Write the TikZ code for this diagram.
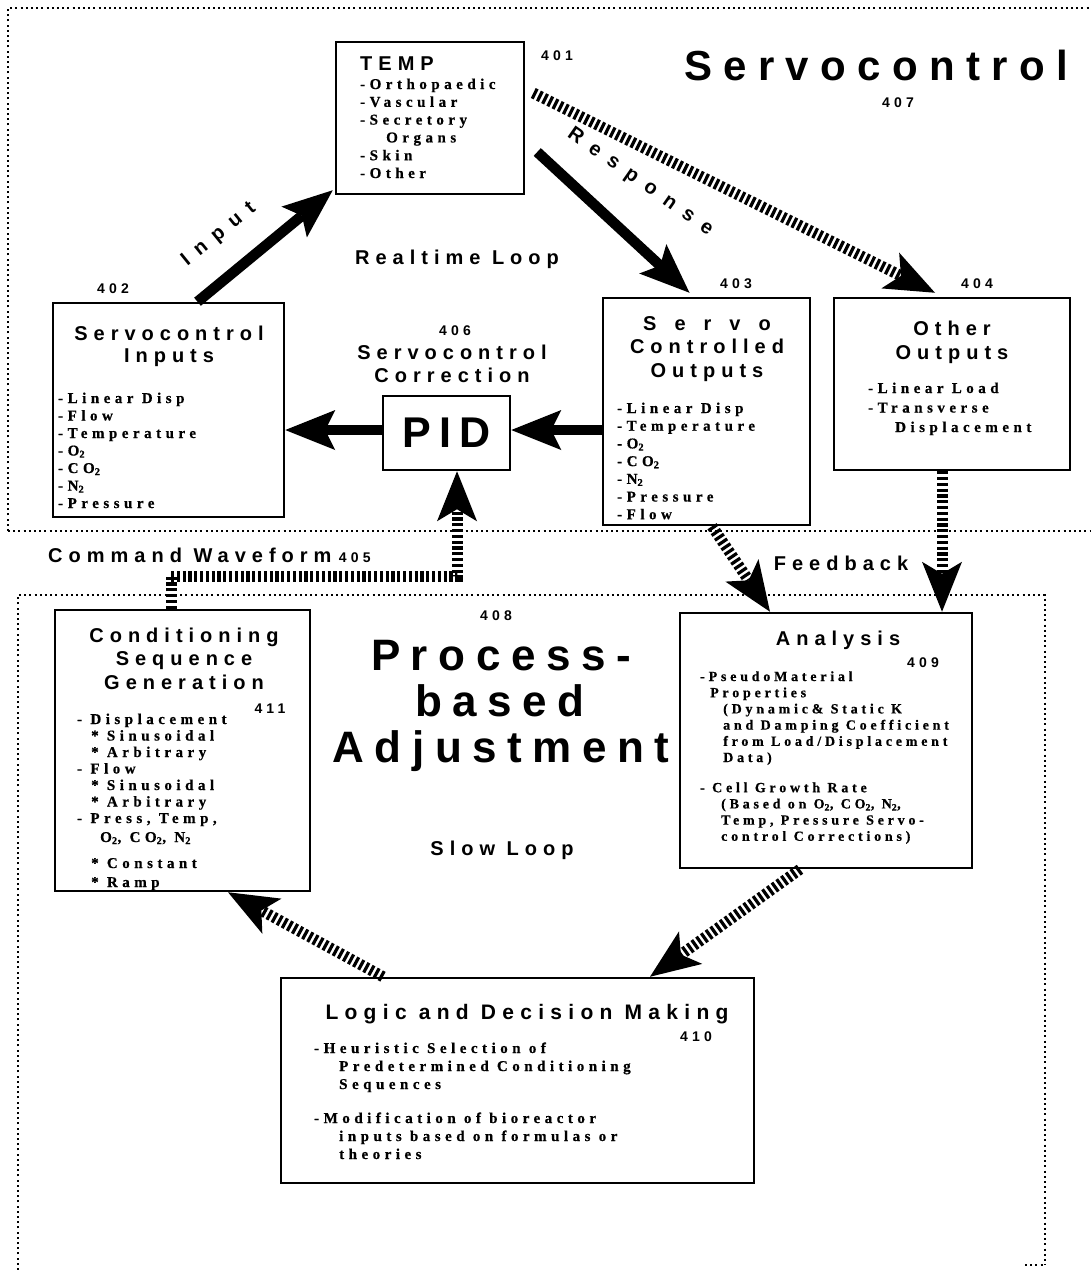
\documentclass[tikz,border=0pt]{standalone}
\usepackage{fontspec}
\setmainfont{Liberation Serif}
\newfontfamily\hdfam[LetterSpace=30]{Liberation Sans}
\newfontfamily\bdfam[LetterSpace=30,FakeBold=0.6]{Liberation Serif}
\usetikzlibrary{arrows.meta,calc}
\newcommand\HD{\hdfam\bfseries\fontsize{20}{22}\selectfont}
\newcommand\BD[1][18]{\bdfam\bfseries\fontsize{15}{#1}\selectfont}
\newcommand\BDa[1][16.2]{\bdfam\bfseries\fontsize{14}{#1}\selectfont\addfontfeature{LetterSpace=27}}
\newcommand\NUM{\hdfam\bfseries\fontsize{14}{16}\selectfont}
\newcommand\BIGA{\hdfam\bfseries\fontsize{42}{46}\selectfont\addfontfeature{LetterSpace=27}}
\newcommand\BIGB{\hdfam\bfseries\fontsize{44}{46}\selectfont\addfontfeature{LetterSpace=24}}
\newcommand\PIDF{\hdfam\bfseries\fontsize{43}{46}\selectfont\addfontfeature{LetterSpace=20}}
\newcommand\txtlines[1]{\begin{tabular}[t]{@{}l@{}}#1\end{tabular}}
\newcommand\sub[1]{\textsubscript{#1}}
\begin{document}
\begin{tikzpicture}[x=1pt,y=-1pt,
  box/.style={draw, line width=2.5pt, inner sep=0pt},
  txt/.style={inner sep=0pt},
  frame/.style={line width=1.6pt, dash pattern=on 2pt off 3.2pt},
  bigarrow/.style={line width=10.5pt, -{Stealth[length=50pt,width=40pt,inset=10pt,line width=0pt]}},
  hatch/.style={line width=11pt, dash pattern=on 3.2pt off 2.6pt, -{Stealth[length=50pt,width=40pt,inset=12pt,line width=0pt]}},
  hatchline/.style={line width=11pt, dash pattern=on 3.2pt off 2.6pt}
]
\useasboundingbox (0,0) rectangle (1091,1270);

% frames
\draw[frame] (8,531) -- (8,8) -- (1091,8);
\draw[frame] (8,531) -- (1091,531);
\draw[frame] (18,1270) -- (18,595) -- (1045,595) -- (1045,1265);
\draw[frame] (1025,1265) -- (1045,1265);

% boxes
\node[box, minimum width=188pt, minimum height=152pt] (temp) at (430,118) {};
\node[box, minimum width=231pt, minimum height=214pt] (inp) at (168.5,410) {};
\node[box, minimum width=127pt, minimum height=74pt] (pid) at (446.5,433) {\PIDF PID};
\node[box, minimum width=207pt, minimum height=227pt] (sco) at (706.5,411.5) {};
\node[box, minimum width=236pt, minimum height=172pt] (oth) at (952,384) {};
\node[box, minimum width=255pt, minimum height=281pt] (cond) at (182.5,750.5) {};
\node[box, minimum width=292pt, minimum height=255pt] (ana) at (826,740.5) {};
\node[box, minimum width=473pt, minimum height=205pt] (logic) at (517.5,1080.5) {};

% titles
\node[txt, anchor=base] (servt) at (876,80) {\BIGA Servocontrol};
\node[txt, anchor=base] (n407) at (898,107) {\NUM 407};
\node[txt, anchor=base] (proc1) at (501,670) {\BIGB Process-};
\node[txt, anchor=base] (proc2) at (500,716) {\BIGB based};
\node[txt, anchor=base] (proc3) at (501,762) {\BIGB Adjustment};
\node[txt, anchor=base] (n408) at (496,620) {\NUM 408};
\node[txt, anchor=base] (rtl) at (457,264) {\HD Realtime Loop};
\node[txt, anchor=base] (slw) at (502,855) {\HD Slow Loop};
\node[txt, anchor=base west] (cmd) at (48,562) {\HD Command Waveform};
\node[txt, anchor=base west] (n405) at ([xshift=7pt]cmd.base east) {\NUM 405};
\node[txt, anchor=base] (fdb) at (841,570) {\HD Feedback};
\node[txt, rotate=39] (inlab) at (219,235) {\HD\addfontfeature{LetterSpace=50}Input};
\node[txt, rotate=-35] (reslab) at (640,182) {\HD\addfontfeature{LetterSpace=55}Response};

% TEMP 401
\node[txt, anchor=base west] (tempT) at (360,70) {\HD TEMP};
\node[txt, anchor=base] (n401) at (557,60) {\NUM 401};
\node[txt, anchor=base west] (tempL) at (360,89) {\BD[17.8]\txtlines{-Orthopaedic\\-Vascular\\-Secretory\\\hspace*{26pt}Organs\\-Skin\\-Other}};

% 402
\node[txt, anchor=base] (n402) at (113,293) {\NUM 402};
\node[txt, anchor=base] (inpT1) at (169,340) {\HD Servocontrol};
\node[txt, anchor=base] (inpT2) at (169,362) {\HD Inputs};
\node[txt, anchor=base west] (inpL) at (58,403) {\BD[17.5]\txtlines{-Linear Disp\\-Flow\\-Temperature\\-O\sub{2}\\-CO\sub{2}\\-N\sub{2}\\-Pressure}};

% 406
\node[txt, anchor=base] (n406) at (455,335) {\NUM 406};
\node[txt, anchor=base] (pidT1) at (452,359) {\HD Servocontrol};
\node[txt, anchor=base] (pidT2) at (452,382) {\HD Correction};

% 403
\node[txt, anchor=base] (n403) at (736,288) {\NUM 403};
\node[txt, anchor=base] (scoT1) at (707,330) {\HD\addfontfeature{LetterSpace=90}Servo};
\node[txt, anchor=base] (scoT2) at (707,353) {\HD Controlled};
\node[txt, anchor=base] (scoT3) at (707,377) {\HD Outputs};
\node[txt, anchor=base west] (scoL) at (617,413) {\BD[17.7]\txtlines{-Linear Disp\\-Temperature\\-O\sub{2}\\-CO\sub{2}\\-N\sub{2}\\-Pressure\\-Flow}};

% 404
\node[txt, anchor=base] (n404) at (977,288) {\NUM 404};
\node[txt, anchor=base] (othT1) at (952,335) {\HD Other};
\node[txt, anchor=base] (othT2) at (952,359) {\HD Outputs};
\node[txt, anchor=base west] (othL) at (868,393) {\BD[19.5]\txtlines{-Linear Load\\-Transverse\\\hspace*{27pt}Displacement}};

% 411
\node[txt, anchor=base] (condT1) at (184,642) {\HD Conditioning};
\node[txt, anchor=base] (condT2) at (184,665) {\HD Sequence};
\node[txt, anchor=base] (condT3) at (184,689) {\HD Generation};
\node[txt, anchor=base] (n411) at (270,713) {\NUM 411};
\node[txt, anchor=base west] (condL) at (77,724) {\BD[16.5]\txtlines{- Displacement\\\hspace*{14pt}* Sinusoidal\\\hspace*{14pt}* Arbitrary\\- Flow\\\hspace*{14pt}* Sinusoidal\\\hspace*{14pt}* Arbitrary\\- Press, Temp,\\[2.5pt]\hspace*{23pt}O\sub{2}, CO\sub{2}, N\sub{2}\\[9.5pt]\hspace*{14pt}* Constant\\[2.5pt]\hspace*{14pt}* Ramp}};

% 409
\node[txt, anchor=base] (anaT) at (838,645) {\HD Analysis};
\node[txt, anchor=base] (n409) at (923,667) {\NUM 409};
\node[txt, anchor=base west] (anaL) at (700,681) {\BDa\txtlines{-PseudoMaterial\\\hspace*{10pt}Properties\\\hspace*{23pt}(Dynamic\& Static K\\\hspace*{23pt}and Damping Coefficient\\\hspace*{23pt}from Load/Displacement\\\hspace*{23pt}Data)\\[14pt]- Cell Growth Rate\\\hspace*{21pt}(Based on O\sub{2}, CO\sub{2}, N\sub{2},\\\hspace*{21pt}Temp, Pressure Servo-\\\hspace*{21pt}control Corrections)}};

% 410
\node[txt, anchor=base] (logicT) at (527,1019) {\HD\fontsize{21}{22}\selectfont Logic and Decision Making};
\node[txt, anchor=base] (n410) at (696,1041) {\NUM 410};
\node[txt, anchor=base west] (logicL) at (314,1053) {\BD[18]\txtlines{-Heuristic Selection of\\\hspace*{25pt}Predetermined Conditioning\\\hspace*{25pt}Sequences\\[16pt]-Modification of bioreactor\\\hspace*{25pt}inputs based on formulas or\\\hspace*{25pt}theories}};

% connectors
\draw[bigarrow] ([xshift=29pt]inp.north) -- ([xshift=-2pt,yshift=5pt]temp.south west);
\draw[bigarrow] ([xshift=12pt,yshift=-34pt]temp.east) -- ([xshift=-17pt,yshift=4pt]sco.north);
\draw[hatch] ([xshift=8pt,yshift=25pt]temp.east) -- ([xshift=-17pt,yshift=4pt]oth.north);
\draw[bigarrow] ([yshift=3pt]pid.west) -- ([yshift=3pt]pid.west -| inp.east);
\draw[bigarrow] ([yshift=3pt]sco.west |- pid.east) -- ([yshift=3pt]pid.east);
\draw[hatchline] ([xshift=-11.5pt]cond.north) -- ++(0,-32) coordinate (cwcorner);
\draw[hatch] (cwcorner) -| ([xshift=10.5pt]pid.south);
\draw[hatch] ([xshift=5.5pt]sco.south) -- ([xshift=-56pt]ana.north);
\draw[hatch] ([xshift=-10pt]oth.south) -- ([xshift=116pt]ana.north);
\draw[hatch] ([xshift=-26pt]ana.south) -- ([xshift=132.5pt]logic.north);
\draw[hatch] ([xshift=-134.5pt]logic.north) -- ([xshift=45.5pt]cond.south);
\end{tikzpicture}
\end{document}
